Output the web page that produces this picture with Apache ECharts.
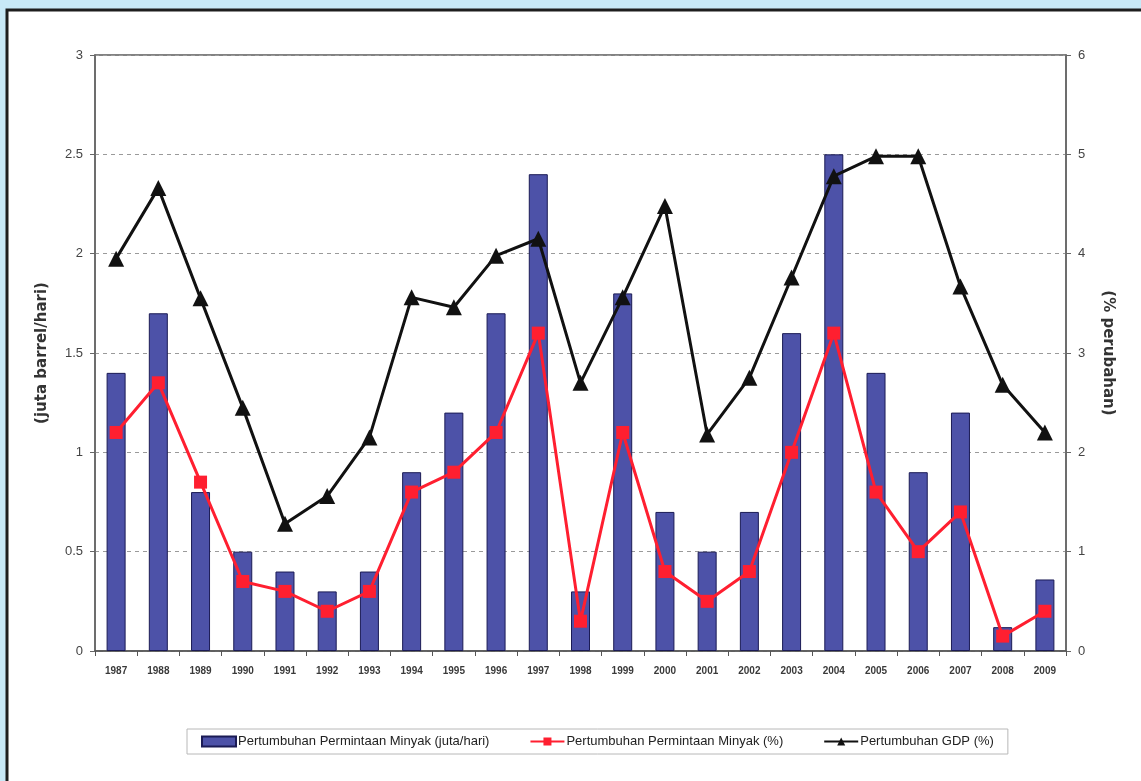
<!DOCTYPE html>
<html>
<head>
<meta charset="utf-8">
<title>Pertumbuhan Permintaan Minyak dan GDP</title>
<script src="https://cdn.jsdelivr.net/npm/echarts@6/dist/echarts.min.js"></script>
<style>
  html, body { margin: 0; padding: 0; background: #c8e9f7; }
  #chart { position: absolute; left: 0; top: 0; width: 1141px; height: 781px; }
</style>
</head>
<body>
<div id="chart"></div>
<script>
// Years on the category axis
const years = ['1987','1988','1989','1990','1991','1992','1993','1994','1995','1996','1997','1998',
               '1999','2000','2001','2002','2003','2004','2005','2006','2007','2008','2009'];

// Oil demand growth, million barrels per day (left axis)
const oilDemandGrowth = [1.4, 1.7, 0.8, 0.5, 0.4, 0.3, 0.4, 0.9, 1.2, 1.7, 2.4, 0.3,
                         1.8, 0.7, 0.5, 0.7, 1.6, 2.5, 1.4, 0.9, 1.2, 0.12, 0.36];

// Oil demand growth, percent (right axis)
const oilDemandPct = [2.2, 2.7, 1.7, 0.7, 0.6, 0.4, 0.6, 1.6, 1.8, 2.2, 3.2, 0.3,
                      2.2, 0.8, 0.5, 0.8, 2.0, 3.2, 1.6, 1.0, 1.4, 0.15, 0.4];

// GDP growth, percent (right axis)
const gdpPct = [3.95, 4.66, 3.55, 2.45, 1.28, 1.56, 2.15, 3.56, 3.46, 3.98, 4.15, 2.7,
                3.56, 4.48, 2.18, 2.75, 3.76, 4.78, 4.98, 4.98, 3.67, 2.68, 2.2];

// Tick labels for both value axes
const leftTicks = ['0', '0.5', '1', '1.5', '2', '2.5', '3'];
const rightTicks = ['0', '1', '2', '3', '4', '5', '6'];

const seriesNames = [
  'Pertumbuhan Permintaan Minyak (juta/hari)',
  'Pertumbuhan Permintaan Minyak (%)',
  'Pertumbuhan GDP (%)'
];

const narrow = "'Liberation Sans Narrow', 'Liberation Sans', Arial, sans-serif";

const chart = echarts.init(document.getElementById('chart'), null, { renderer: 'canvas' });

chart.setOption({
  backgroundColor: 'transparent',
  animation: false,
  graphic: [
    // white framed panel
    { type: 'rect', z: -10, shape: { x: 7, y: 10, width: 1200, height: 800 },
      style: { fill: '#ffffff', stroke: '#1e1e1e', lineWidth: 3 } }
  ],
  legend: {
    left: 187,
    top: 729,
    width: 830,
    padding: [6, 14, 6, 14],
    borderColor: '#b8b8b8',
    borderWidth: 1,
    itemGap: 40,
    itemWidth: 34,
    itemHeight: 10,
    textStyle: { fontFamily: narrow, fontSize: 13, color: '#222', padding: [0, 0, 0, -3] },
    data: [
      { name: seriesNames[0], icon: 'rect' },
      { name: seriesNames[1] },
      { name: seriesNames[2] }
    ]
  },
  grid: {
    left: 95, right: 75, top: 55, bottom: 130,
    show: true, borderColor: '#5a5a5a', borderWidth: 1.5, backgroundColor: 'transparent'
  },
  xAxis: {
    type: 'category',
    data: years,
    axisLine: { lineStyle: { color: '#555', width: 1.5 } },
    axisTick: { show: true, length: 5, lineStyle: { color: '#555' } },
    axisLabel: { fontFamily: narrow, fontSize: 10, fontWeight: 'bold', color: '#3a3a3a', margin: 15 }
  },
  yAxis: [
    {
      type: 'value', min: 0, max: 3, interval: 0.5, position: 'left',
      name: '(juta barrel/hari)',
      nameLocation: 'middle', nameRotate: 90, nameGap: 45,
      nameTextStyle: { fontFamily: "'DejaVu Sans', sans-serif", fontSize: 15, fontWeight: 'bold', color: '#333' },
      axisLine: { show: true, lineStyle: { color: '#666', width: 1.5 } },
      axisTick: { show: true, length: 5, lineStyle: { color: '#666' } },
      axisLabel: {
        fontFamily: narrow, fontSize: 13, color: '#444', margin: 12,
        formatter: (v) => leftTicks[Math.round(v / 0.5)]
      },
      splitLine: { show: true, lineStyle: { color: '#9a9a9a', type: [4, 4], width: 1 } }
    },
    {
      type: 'value', min: 0, max: 6, interval: 1, position: 'right',
      name: '(% perubahan)',
      nameLocation: 'middle', nameRotate: -90, nameGap: 34,
      nameTextStyle: { fontFamily: "'DejaVu Sans', sans-serif", fontSize: 15, fontWeight: 'bold', color: '#333' },
      axisLine: { show: true, lineStyle: { color: '#666', width: 1.5 } },
      axisTick: { show: true, length: 5, lineStyle: { color: '#666' } },
      axisLabel: {
        fontFamily: narrow, fontSize: 13, color: '#444', margin: 12,
        formatter: (v) => rightTicks[Math.round(v)]
      },
      splitLine: { show: false }
    }
  ],
  series: [
    {
      name: seriesNames[0],
      type: 'bar',
      yAxisIndex: 0,
      data: oilDemandGrowth,
      barWidth: 19,
      itemStyle: { color: '#4d52a8', borderColor: '#1b1b55', borderWidth: 1 }
    },
    {
      name: seriesNames[1],
      type: 'line',
      yAxisIndex: 1,
      data: oilDemandPct,
      symbol: 'rect',
      symbolSize: 13,
      lineStyle: { color: '#ff1f30', width: 3 },
      itemStyle: { color: '#ff1f30' },
      z: 3
    },
    {
      name: seriesNames[2],
      type: 'line',
      yAxisIndex: 1,
      data: gdpPct,
      symbol: 'triangle',
      symbolSize: 16,
      lineStyle: { color: '#111111', width: 3 },
      itemStyle: { color: '#111111' },
      z: 4
    }
  ]
});
</script>
</body>
</html>
